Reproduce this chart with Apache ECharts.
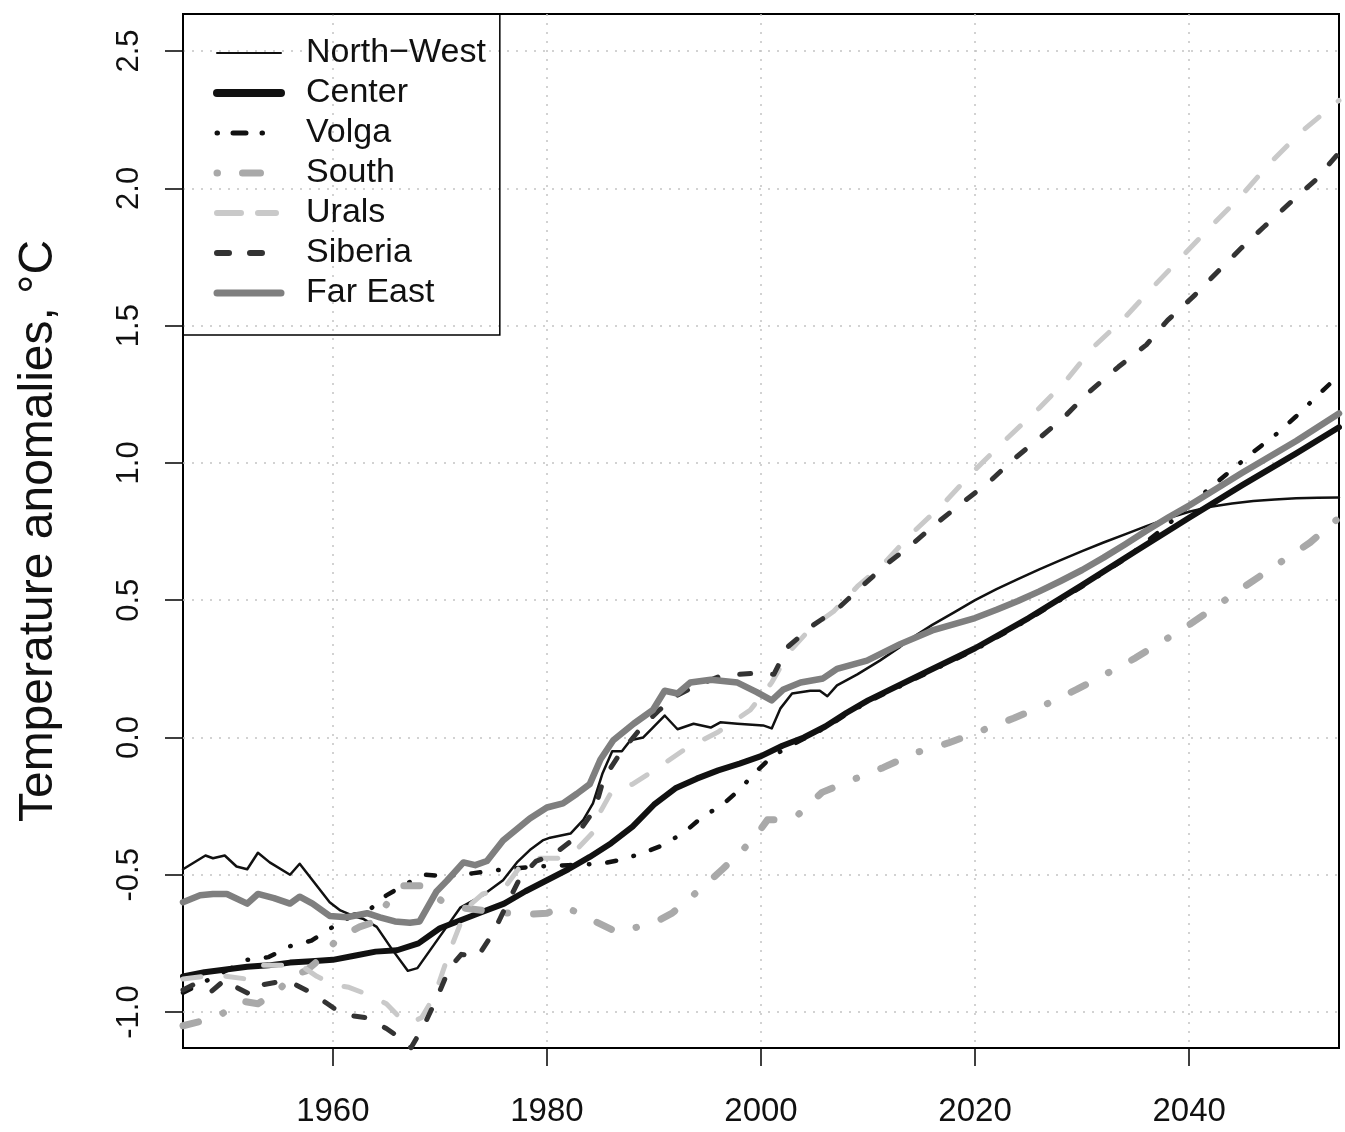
<!DOCTYPE html>
<html><head><meta charset="utf-8">
<script src="https://cdn.jsdelivr.net/npm/echarts@6/dist/echarts.min.js"></script>
<style>html,body{margin:0;padding:0;background:#fff}#c{width:1345px;height:1132px}</style>
</head><body><div id="c"></div>
<script>
// ---- tick labels ----
const xTicks = [1960, 1980, 2000, 2020, 2040];
const yTicks = [-1.0, -0.5, 0.0, 0.5, 1.0, 1.5, 2.0, 2.5];
const regionNames = ['North\u2212West', 'Center', 'Volga', 'South', 'Urals', 'Siberia', 'Far East'];

// ---- North-West ----
const nwYears = [1946,1948.1,1948.8,1949.9,1951,1952,1953,1954.1,1956,1956.9,1958.1,1959.7,1960.7,1961.9,1962.8,1964.1,1965.5,1967,1967.9,1969.9,1971.9,1974,1975.9,1977.2,1978.4,1979.6,1980.3,1982.2,1983.4,1984.3,1985.2,1986.1,1987,1987.8,1989,1989.9,1991,1992.2,1993.7,1995.3,1996.2,1997.8,2000.2,2001,2001.8,2002.9,2004.6,2005.5,2006.2,2007.1,2009,2011.1,2013,2014,2016,2018,2020,2022,2024,2026,2028,2030,2032,2034,2036,2038,2040,2042,2044,2046,2048,2050,2052,2054];
const nwValues = [-0.48,-0.43,-0.44,-0.43,-0.47,-0.48,-0.42,-0.455,-0.50,-0.46,-0.52,-0.60,-0.63,-0.65,-0.66,-0.69,-0.77,-0.85,-0.84,-0.73,-0.62,-0.575,-0.52,-0.455,-0.41,-0.375,-0.365,-0.35,-0.30,-0.24,-0.13,-0.05,-0.05,-0.01,0.0,0.036,0.08,0.03,0.05,0.036,0.055,0.05,0.044,0.033,0.105,0.16,0.17,0.17,0.15,0.19,0.23,0.28,0.33,0.36,0.41,0.455,0.50,0.54,0.577,0.612,0.646,0.679,0.71,0.74,0.77,0.798,0.822,0.84,0.852,0.861,0.867,0.871,0.873,0.874];

// ---- Center ----
const centerYears = [1946,1948,1950,1952,1954,1956,1958,1960,1962,1964,1966,1968,1970,1972,1974,1976,1978,1980,1982,1984,1986,1988,1990,1992,1994,1996,1998,2000,2002,2004,2006,2008,2010,2015,2020,2025,2030,2035,2040,2045,2050,2054];
const centerValues = [-0.87,-0.855,-0.845,-0.835,-0.83,-0.82,-0.815,-0.81,-0.795,-0.78,-0.775,-0.75,-0.695,-0.665,-0.635,-0.605,-0.56,-0.52,-0.48,-0.435,-0.385,-0.325,-0.245,-0.185,-0.15,-0.12,-0.095,-0.068,-0.03,0.0,0.04,0.09,0.135,0.23,0.325,0.435,0.555,0.678,0.80,0.92,1.035,1.13];

// ---- Volga ----
const volgaYears = [1946,1948,1950,1952,1954,1956,1958,1960,1962,1963.5,1965,1967,1968.6,1970.5,1973,1976,1979,1982,1985,1987,1989,1991,1993,1994.5,1996.4,1998,1999.4,2001,2002.5,2004,2006,2008,2010,2015,2020,2025,2030,2034,2036,2038,2040,2042,2044,2046,2048,2050,2052,2054];
const volgaValues = [-0.93,-0.89,-0.85,-0.81,-0.80,-0.76,-0.74,-0.69,-0.645,-0.625,-0.575,-0.53,-0.50,-0.505,-0.495,-0.48,-0.47,-0.465,-0.46,-0.445,-0.42,-0.39,-0.34,-0.29,-0.245,-0.19,-0.13,-0.07,-0.035,-0.005,0.035,0.085,0.13,0.225,0.32,0.43,0.55,0.65,0.712,0.775,0.845,0.91,0.975,1.04,1.10,1.17,1.245,1.32];

// ---- South ----
const southYears = [1946,1948,1949.5,1951.5,1953,1955,1956,1957.5,1959,1960.5,1962.5,1964,1965.3,1966.5,1968.5,1970.3,1972,1975,1978,1980,1981.5,1983,1984.5,1986.6,1988.5,1990,1991.7,1993.5,1995,1996.4,1998,1999.3,2000.6,2002,2003.5,2005.7,2008.5,2011.4,2014.5,2017.5,2020.6,2023.6,2026.6,2029.5,2032.4,2035,2040,2045,2048.6,2051.3,2054];
const southValues = [-1.05,-1.03,-1.01,-0.96,-0.97,-0.92,-0.87,-0.85,-0.80,-0.73,-0.69,-0.67,-0.59,-0.54,-0.54,-0.60,-0.62,-0.635,-0.645,-0.64,-0.615,-0.64,-0.67,-0.71,-0.69,-0.675,-0.64,-0.58,-0.53,-0.48,-0.42,-0.37,-0.30,-0.30,-0.28,-0.20,-0.155,-0.11,-0.055,-0.02,0.025,0.07,0.12,0.175,0.235,0.29,0.41,0.545,0.64,0.71,0.80];

// ---- Urals ----
const uralsYears = [1946,1948,1950,1952,1953.5,1955,1957,1958.5,1960,1961.5,1963.5,1965,1966.5,1967.3,1968.3,1969.5,1971,1972.5,1974,1976,1977.5,1979,1981,1982.5,1984.2,1985,1986,1988,1990,1993,1996,1999,2001,2002.6,2004.7,2006.8,2009,2011.4,2014,2017,2020,2023,2026,2028.5,2031,2034,2036.6,2039.3,2042,2044.8,2047.5,2050.3,2054];
const uralsValues = [-0.88,-0.87,-0.87,-0.88,-0.83,-0.83,-0.83,-0.87,-0.90,-0.91,-0.94,-0.97,-1.03,-1.04,-1.02,-0.94,-0.77,-0.62,-0.57,-0.55,-0.47,-0.44,-0.44,-0.42,-0.35,-0.27,-0.20,-0.17,-0.12,-0.04,0.02,0.10,0.20,0.31,0.40,0.46,0.55,0.63,0.74,0.85,0.975,1.09,1.20,1.30,1.42,1.53,1.64,1.75,1.86,1.97,2.09,2.20,2.32];

// ---- Siberia ----
const siberiaYears = [1946,1947,1948.5,1950,1951,1952.5,1953.5,1955,1956.5,1958,1959.5,1961,1963,1965,1966.5,1967.3,1968.5,1969.7,1970.9,1972,1973.5,1975,1976.3,1977.5,1979,1980.5,1982.5,1984.5,1985.3,1986.8,1988.9,1990.5,1992,1994,1996,1998,2000,2001.2,2002.5,2004.9,2007.2,2009.4,2011.7,2014,2016.4,2018.8,2021.3,2023.5,2026,2028.4,2030.7,2033.4,2036,2038,2040.5,2042.5,2044.8,2047,2049.5,2051.8,2054];
const siberiaValues = [-0.92,-0.90,-0.93,-0.88,-0.91,-0.94,-0.90,-0.89,-0.90,-0.93,-0.97,-1.01,-1.02,-1.06,-1.10,-1.13,-1.05,-0.95,-0.84,-0.79,-0.80,-0.71,-0.605,-0.51,-0.45,-0.43,-0.37,-0.26,-0.15,-0.06,0.04,0.10,0.15,0.19,0.22,0.23,0.235,0.23,0.33,0.41,0.47,0.55,0.63,0.70,0.78,0.855,0.93,1.01,1.09,1.17,1.26,1.35,1.43,1.52,1.61,1.69,1.78,1.86,1.95,2.03,2.13];

// ---- Far East ----
const farEastYears = [1946,1947.6,1948.8,1950.1,1952,1953,1954.5,1956,1956.9,1958.1,1959.7,1961.3,1963.2,1964.4,1965.8,1967.2,1968.1,1969.7,1970.7,1972.2,1973.3,1974.4,1975.9,1978.4,1980,1981.5,1982.8,1984,1985,1986.2,1988.1,1989.9,1991,1992.2,1993.4,1995.3,1997.8,1999.6,2001,2002.1,2003.7,2005.8,2007.1,2009.9,2013,2016,2020,2022,2024,2026,2028,2030,2032,2034,2036,2038,2040,2045,2050,2054];
const farEastValues = [-0.60,-0.575,-0.57,-0.57,-0.605,-0.57,-0.585,-0.605,-0.58,-0.605,-0.65,-0.655,-0.64,-0.655,-0.67,-0.675,-0.67,-0.56,-0.52,-0.455,-0.465,-0.45,-0.375,-0.295,-0.255,-0.24,-0.205,-0.17,-0.08,-0.01,0.05,0.10,0.17,0.16,0.20,0.21,0.20,0.165,0.135,0.175,0.20,0.215,0.25,0.28,0.34,0.39,0.435,0.465,0.497,0.532,0.57,0.61,0.655,0.703,0.753,0.80,0.845,0.965,1.08,1.18];

function zip(xs, ys) { return xs.map((x, i) => [x, ys[i]]); }

const FONT = '"Liberation Sans", Arial, sans-serif';

const styles = [
  { color: '#111111', width: 2.5, type: 'solid' },
  { color: '#111111', width: 6, type: 'solid' },
  { color: '#111111', width: 4.5, type: [9, 18, 0.5, 18] },
  { color: '#a9a9a9', width: 7, type: [16, 26, 0.5, 26] },
  { color: '#c9c9c9', width: 5, type: [18, 25] },
  { color: '#333333', width: 5, type: [11, 22] },
  { color: '#7f7f7f', width: 6.5, type: 'solid' }
];
const legendStyles = [
  { width: 2, type: 'solid' },
  { width: 8, type: 'solid' },
  { width: 5, type: [0.5, 15.5, 13, 16, 0.5, 40] },
  { width: 7, type: [0.5, 25, 18, 40] },
  { width: 6, type: [24, 17, 18, 30] },
  { width: 6, type: [12, 21, 12, 40] },
  { width: 7, type: 'solid' }
];
const dataSets = [
  zip(nwYears, nwValues), zip(centerYears, centerValues), zip(volgaYears, volgaValues),
  zip(southYears, southValues), zip(uralsYears, uralsValues), zip(siberiaYears, siberiaValues),
  zip(farEastYears, farEastValues)
];

const series = regionNames.map((name, i) => ({
  name: name,
  type: 'line',
  data: dataSets[i],
  symbol: 'none',
  showSymbol: false,
  clip: true,
  color: styles[i].color,
  lineStyle: { color: styles[i].color, width: styles[i].width, type: styles[i].type, cap: 'round', join: 'round' },
  z: 3 + i
}));

const chart = echarts.init(document.getElementById('c'), null, { renderer: 'canvas' });
chart.setOption({
  animation: false,
  backgroundColor: '#ffffff',
  grid: { left: 183, right: 6, top: 14, bottom: 84, show: true, borderColor: '#000', borderWidth: 2, backgroundColor: 'transparent' },
  xAxis: {
    type: 'value', min: 1946, max: 2054,
    axisLine: { show: false, onZero: false },
    axisTick: { show: true, customValues: xTicks, length: 18, lineStyle: { color: '#000', width: 1.5 } },
    axisLabel: { customValues: xTicks, fontSize: 33, fontFamily: FONT, color: '#111', margin: 47,
      formatter: v => String(v) },
    splitLine: { show: true, lineStyle: { color: '#c4c4c4', width: 1.5, type: [2, 7] } }
  },
  yAxis: {
    type: 'value', min: -1.131, max: 2.635,
    name: 'Temperature anomalies, \u00b0C', nameLocation: 'middle', nameGap: 120, nameRotate: 90,
    nameTextStyle: { fontSize: 48, fontFamily: FONT, color: '#111' },
    axisLine: { show: false, onZero: false },
    axisTick: { show: true, customValues: yTicks, length: 18, lineStyle: { color: '#000', width: 1.5 } },
    axisLabel: { customValues: yTicks, rotate: 90, fontSize: 31, fontFamily: FONT, color: '#111', margin: 38,
      formatter: v => v.toFixed(1) },
    splitLine: { show: true, lineStyle: { color: '#c4c4c4', width: 1.5, type: [2, 7] } }
  },
  legend: {
    show: true, orient: 'vertical', left: 183, top: 14,
    padding: [19, 14, 22, 30], itemGap: 0, itemWidth: 64, itemHeight: 40,
    borderColor: '#000', borderWidth: 1.5, backgroundColor: 'transparent',
    itemStyle: { opacity: 0 },
    textStyle: { fontSize: 34, fontFamily: FONT, color: '#111', lineHeight: 40, padding: [0, 0, 0, 20] },
    data: regionNames.map((name, i) => ({
      name: name,
      lineStyle: { color: styles[i].color, width: legendStyles[i].width, type: legendStyles[i].type, cap: 'round' }
    }))
  },
  series: series
});
</script>
</body></html>
